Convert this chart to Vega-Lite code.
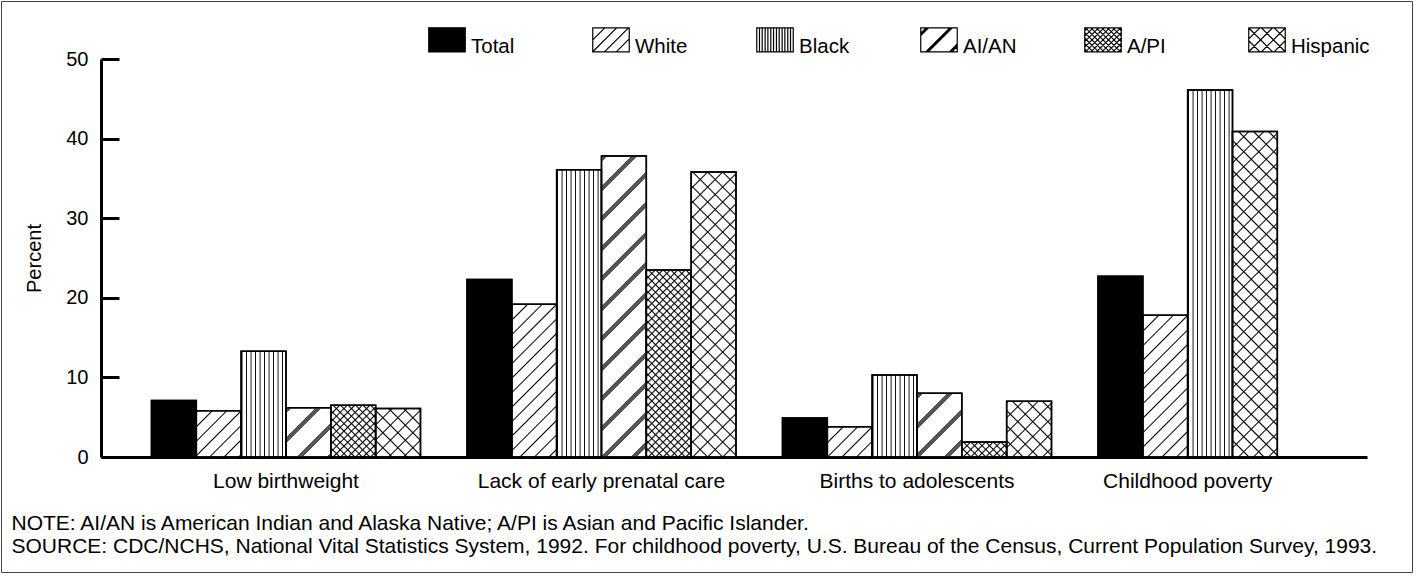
{
  "$schema": "https://vega.github.io/schema/vega-lite/v6.json",
  "width": 1411,
  "height": 571,
  "autosize": {"type": "none"},
  "padding": {"left": 1, "top": 1, "right": 4, "bottom": 5},
  "background": "white",
  "config": {
    "font": "Liberation Sans",
    "view": {"stroke": "#444", "strokeWidth": 1},
    "axis": {"labelFont": "Liberation Sans", "titleFont": "Liberation Sans", "labelColor": "black", "titleColor": "black", "titleFontWeight": "normal", "grid": false}
  },
  "params": [
    {"name": "stThin", "value": [
      {"offset":0,"color":"transparent"},{"offset":0.003125,"color":"#000"},{"offset":0.00625,"color":"transparent"},
      {"offset":0.03125,"color":"transparent"},{"offset":0.034375,"color":"#000"},{"offset":0.0375,"color":"transparent"},
      {"offset":0.0625,"color":"transparent"},{"offset":0.065625,"color":"#000"},{"offset":0.06875,"color":"transparent"},
      {"offset":0.09375,"color":"transparent"},{"offset":0.096875,"color":"#000"},{"offset":0.1,"color":"transparent"},
      {"offset":0.125,"color":"transparent"},{"offset":0.128125,"color":"#000"},{"offset":0.13125,"color":"transparent"},
      {"offset":0.15625,"color":"transparent"},{"offset":0.159375,"color":"#000"},{"offset":0.1625,"color":"transparent"},
      {"offset":0.1875,"color":"transparent"},{"offset":0.190625,"color":"#000"},{"offset":0.19375,"color":"transparent"},
      {"offset":0.21875,"color":"transparent"},{"offset":0.221875,"color":"#000"},{"offset":0.225,"color":"transparent"},
      {"offset":0.25,"color":"transparent"},{"offset":0.253125,"color":"#000"},{"offset":0.25625,"color":"transparent"},
      {"offset":0.28125,"color":"transparent"},{"offset":0.284375,"color":"#000"},{"offset":0.2875,"color":"transparent"},
      {"offset":0.3125,"color":"transparent"},{"offset":0.315625,"color":"#000"},{"offset":0.31875,"color":"transparent"},
      {"offset":0.34375,"color":"transparent"},{"offset":0.346875,"color":"#000"},{"offset":0.35,"color":"transparent"},
      {"offset":0.375,"color":"transparent"},{"offset":0.378125,"color":"#000"},{"offset":0.38125,"color":"transparent"},
      {"offset":0.40625,"color":"transparent"},{"offset":0.409375,"color":"#000"},{"offset":0.4125,"color":"transparent"},
      {"offset":0.4375,"color":"transparent"},{"offset":0.440625,"color":"#000"},{"offset":0.44375,"color":"transparent"},
      {"offset":0.46875,"color":"transparent"},{"offset":0.471875,"color":"#000"},{"offset":0.475,"color":"transparent"},
      {"offset":0.5,"color":"transparent"},{"offset":0.503125,"color":"#000"},{"offset":0.50625,"color":"transparent"},
      {"offset":0.53125,"color":"transparent"},{"offset":0.534375,"color":"#000"},{"offset":0.5375,"color":"transparent"},
      {"offset":0.5625,"color":"transparent"},{"offset":0.565625,"color":"#000"},{"offset":0.56875,"color":"transparent"},
      {"offset":0.59375,"color":"transparent"},{"offset":0.596875,"color":"#000"},{"offset":0.6,"color":"transparent"},
      {"offset":0.625,"color":"transparent"},{"offset":0.628125,"color":"#000"},{"offset":0.63125,"color":"transparent"},
      {"offset":0.65625,"color":"transparent"},{"offset":0.659375,"color":"#000"},{"offset":0.6625,"color":"transparent"},
      {"offset":0.6875,"color":"transparent"},{"offset":0.690625,"color":"#000"},{"offset":0.69375,"color":"transparent"},
      {"offset":0.71875,"color":"transparent"},{"offset":0.721875,"color":"#000"},{"offset":0.725,"color":"transparent"},
      {"offset":0.75,"color":"transparent"},{"offset":0.753125,"color":"#000"},{"offset":0.75625,"color":"transparent"},
      {"offset":0.78125,"color":"transparent"},{"offset":0.784375,"color":"#000"},{"offset":0.7875,"color":"transparent"},
      {"offset":0.8125,"color":"transparent"},{"offset":0.815625,"color":"#000"},{"offset":0.81875,"color":"transparent"},
      {"offset":0.84375,"color":"transparent"},{"offset":0.846875,"color":"#000"},{"offset":0.85,"color":"transparent"},
      {"offset":0.875,"color":"transparent"},{"offset":0.878125,"color":"#000"},{"offset":0.88125,"color":"transparent"},
      {"offset":0.90625,"color":"transparent"},{"offset":0.909375,"color":"#000"},{"offset":0.9125,"color":"transparent"},
      {"offset":0.9375,"color":"transparent"},{"offset":0.940625,"color":"#000"},{"offset":0.94375,"color":"transparent"},
      {"offset":0.96875,"color":"transparent"},{"offset":0.971875,"color":"#000"},{"offset":0.975,"color":"transparent"}
    ]},
    {"name": "stMed", "value": [
      {"offset":0,"color":"transparent"},{"offset":0.00625,"color":"#000"},{"offset":0.0125,"color":"transparent"},
      {"offset":0.03125,"color":"transparent"},{"offset":0.0375,"color":"#000"},{"offset":0.04375,"color":"transparent"},
      {"offset":0.0625,"color":"transparent"},{"offset":0.06875,"color":"#000"},{"offset":0.075,"color":"transparent"},
      {"offset":0.09375,"color":"transparent"},{"offset":0.1,"color":"#000"},{"offset":0.10625,"color":"transparent"},
      {"offset":0.125,"color":"transparent"},{"offset":0.13125,"color":"#000"},{"offset":0.1375,"color":"transparent"},
      {"offset":0.15625,"color":"transparent"},{"offset":0.1625,"color":"#000"},{"offset":0.16875,"color":"transparent"},
      {"offset":0.1875,"color":"transparent"},{"offset":0.19375,"color":"#000"},{"offset":0.2,"color":"transparent"},
      {"offset":0.21875,"color":"transparent"},{"offset":0.225,"color":"#000"},{"offset":0.23125,"color":"transparent"},
      {"offset":0.25,"color":"transparent"},{"offset":0.25625,"color":"#000"},{"offset":0.2625,"color":"transparent"},
      {"offset":0.28125,"color":"transparent"},{"offset":0.2875,"color":"#000"},{"offset":0.29375,"color":"transparent"},
      {"offset":0.3125,"color":"transparent"},{"offset":0.31875,"color":"#000"},{"offset":0.325,"color":"transparent"},
      {"offset":0.34375,"color":"transparent"},{"offset":0.35,"color":"#000"},{"offset":0.35625,"color":"transparent"},
      {"offset":0.375,"color":"transparent"},{"offset":0.38125,"color":"#000"},{"offset":0.3875,"color":"transparent"},
      {"offset":0.40625,"color":"transparent"},{"offset":0.4125,"color":"#000"},{"offset":0.41875,"color":"transparent"},
      {"offset":0.4375,"color":"transparent"},{"offset":0.44375,"color":"#000"},{"offset":0.45,"color":"transparent"},
      {"offset":0.46875,"color":"transparent"},{"offset":0.475,"color":"#000"},{"offset":0.48125,"color":"transparent"},
      {"offset":0.5,"color":"transparent"},{"offset":0.50625,"color":"#000"},{"offset":0.5125,"color":"transparent"},
      {"offset":0.53125,"color":"transparent"},{"offset":0.5375,"color":"#000"},{"offset":0.54375,"color":"transparent"},
      {"offset":0.5625,"color":"transparent"},{"offset":0.56875,"color":"#000"},{"offset":0.575,"color":"transparent"},
      {"offset":0.59375,"color":"transparent"},{"offset":0.6,"color":"#000"},{"offset":0.60625,"color":"transparent"},
      {"offset":0.625,"color":"transparent"},{"offset":0.63125,"color":"#000"},{"offset":0.6375,"color":"transparent"},
      {"offset":0.65625,"color":"transparent"},{"offset":0.6625,"color":"#000"},{"offset":0.66875,"color":"transparent"},
      {"offset":0.6875,"color":"transparent"},{"offset":0.69375,"color":"#000"},{"offset":0.7,"color":"transparent"},
      {"offset":0.71875,"color":"transparent"},{"offset":0.725,"color":"#000"},{"offset":0.73125,"color":"transparent"},
      {"offset":0.75,"color":"transparent"},{"offset":0.75625,"color":"#000"},{"offset":0.7625,"color":"transparent"},
      {"offset":0.78125,"color":"transparent"},{"offset":0.7875,"color":"#000"},{"offset":0.79375,"color":"transparent"},
      {"offset":0.8125,"color":"transparent"},{"offset":0.81875,"color":"#000"},{"offset":0.825,"color":"transparent"},
      {"offset":0.84375,"color":"transparent"},{"offset":0.85,"color":"#000"},{"offset":0.85625,"color":"transparent"},
      {"offset":0.875,"color":"transparent"},{"offset":0.88125,"color":"#000"},{"offset":0.8875,"color":"transparent"},
      {"offset":0.90625,"color":"transparent"},{"offset":0.9125,"color":"#000"},{"offset":0.91875,"color":"transparent"},
      {"offset":0.9375,"color":"transparent"},{"offset":0.94375,"color":"#000"},{"offset":0.95,"color":"transparent"},
      {"offset":0.96875,"color":"transparent"},{"offset":0.975,"color":"#000"},{"offset":0.98125,"color":"transparent"}
    ]},
    {"name": "stBand", "value": [
      {"offset":0,"color":"transparent"},{"offset":0,"color":"#555"},{"offset":0.016667,"color":"#555"},{"offset":0.016667,"color":"transparent"},
      {"offset":0.083333,"color":"transparent"},{"offset":0.083333,"color":"#555"},{"offset":0.1,"color":"#555"},{"offset":0.1,"color":"transparent"},
      {"offset":0.166667,"color":"transparent"},{"offset":0.166667,"color":"#555"},{"offset":0.183333,"color":"#555"},{"offset":0.183333,"color":"transparent"},
      {"offset":0.25,"color":"transparent"},{"offset":0.25,"color":"#555"},{"offset":0.266667,"color":"#555"},{"offset":0.266667,"color":"transparent"},
      {"offset":0.333333,"color":"transparent"},{"offset":0.333333,"color":"#555"},{"offset":0.35,"color":"#555"},{"offset":0.35,"color":"transparent"},
      {"offset":0.416667,"color":"transparent"},{"offset":0.416667,"color":"#555"},{"offset":0.433333,"color":"#555"},{"offset":0.433333,"color":"transparent"},
      {"offset":0.5,"color":"transparent"},{"offset":0.5,"color":"#555"},{"offset":0.516667,"color":"#555"},{"offset":0.516667,"color":"transparent"},
      {"offset":0.583333,"color":"transparent"},{"offset":0.583333,"color":"#555"},{"offset":0.6,"color":"#555"},{"offset":0.6,"color":"transparent"},
      {"offset":0.666667,"color":"transparent"},{"offset":0.666667,"color":"#555"},{"offset":0.683333,"color":"#555"},{"offset":0.683333,"color":"transparent"},
      {"offset":0.75,"color":"transparent"},{"offset":0.75,"color":"#555"},{"offset":0.766667,"color":"#555"},{"offset":0.766667,"color":"transparent"},
      {"offset":0.833333,"color":"transparent"},{"offset":0.833333,"color":"#555"},{"offset":0.85,"color":"#555"},{"offset":0.85,"color":"transparent"},
      {"offset":0.916667,"color":"transparent"},{"offset":0.916667,"color":"#555"},{"offset":0.933333,"color":"#555"},{"offset":0.933333,"color":"transparent"}
    ]}
  ],
  "data": {"values": [
    {"indicator": "Low birthweight", "race": "Total", "value": 7.1},
    {"indicator": "Low birthweight", "race": "White", "value": 5.8},
    {"indicator": "Low birthweight", "race": "Black", "value": 13.3},
    {"indicator": "Low birthweight", "race": "AI/AN", "value": 6.2},
    {"indicator": "Low birthweight", "race": "A/PI", "value": 6.5},
    {"indicator": "Low birthweight", "race": "Hispanic", "value": 6.1},
    {"indicator": "Lack of early prenatal care", "race": "Total", "value": 22.3},
    {"indicator": "Lack of early prenatal care", "race": "White", "value": 19.2},
    {"indicator": "Lack of early prenatal care", "race": "Black", "value": 36.1},
    {"indicator": "Lack of early prenatal care", "race": "AI/AN", "value": 37.8},
    {"indicator": "Lack of early prenatal care", "race": "A/PI", "value": 23.5},
    {"indicator": "Lack of early prenatal care", "race": "Hispanic", "value": 35.8},
    {"indicator": "Births to adolescents", "race": "Total", "value": 4.9},
    {"indicator": "Births to adolescents", "race": "White", "value": 3.8},
    {"indicator": "Births to adolescents", "race": "Black", "value": 10.3},
    {"indicator": "Births to adolescents", "race": "AI/AN", "value": 8.0},
    {"indicator": "Births to adolescents", "race": "A/PI", "value": 1.9},
    {"indicator": "Births to adolescents", "race": "Hispanic", "value": 7.0},
    {"indicator": "Childhood poverty", "race": "Total", "value": 22.7},
    {"indicator": "Childhood poverty", "race": "White", "value": 17.8},
    {"indicator": "Childhood poverty", "race": "Black", "value": 46.1},
    {"indicator": "Childhood poverty", "race": "Hispanic", "value": 40.9}
  ]},
  "transform": [
    {"window": [{"op": "row_number", "as": "slot"}], "groupby": ["indicator"]}
  ],
  "encoding": {
    "x": {
      "field": "indicator", "type": "nominal",
      "scale": {"domain": ["Low birthweight", "Lack of early prenatal care", "Births to adolescents", "Childhood poverty"], "range": [100, 1366], "paddingInner": 0.1474, "paddingOuter": 0.08, "align": 1},
      "axis": {
        "orient": "bottom", "offset": -115, "ticks": false, "labels": false, "domainWidth": 3, "domainColor": "black",
        "title": ["NOTE: AI/AN is American Indian and Alaska Native; A/PI is Asian and Pacific Islander.", "SOURCE: CDC/NCHS, National Vital Statistics System, 1992. For childhood poverty, U.S. Bureau of the Census, Current Population Survey, 1993."],
        "titleX": 10, "titleY": 72, "titleAlign": "left", "titleAnchor": "start", "titleBaseline": "alphabetic", "titleFontSize": 21, "titleLineHeight": 23, "titleAngle": 0
      }
    },
    "y": {
      "field": "value", "type": "quantitative", "stack": null,
      "scale": {"domain": [0, 50], "range": [456, 58], "nice": false},
      "axis": {
        "values": [0, 10, 20, 30, 40, 50], "offset": -100, "tickSize": -18, "tickWidth": 3, "tickColor": "black",
        "domainWidth": 3, "domainColor": "black", "labelPadding": 31, "labelFontSize": 20,
        "title": "Percent", "titleFontSize": 20, "titleX": -61, "titleY": 257, "titleAngle": 270, "titleAlign": "center", "titleBaseline": "alphabetic"
      }
    }
  },
  "layer": [
    {
      "mark": {"type": "bar", "stroke": "black", "strokeWidth": 1.5},
      "encoding": {
        "xOffset": {"field": "slot", "type": "ordinal", "scale": {"paddingInner": 0, "paddingOuter": 0}},
        "fill": {
          "field": "race", "type": "nominal",
          "scale": {"domain": ["Total", "White", "Black", "AI/AN", "A/PI", "Hispanic"], "range": ["#000", "#fff", "#fff", "#fff", "#fff", "#fff"]},
          "legend": {
            "orient": "none", "legendX": 427, "legendY": 19.4, "direction": "horizontal", "columns": 6, "title": null,
            "gridAlign": "all", "columnPadding": 40, "padding": 0,
            "symbolSize": 1332, "symbolType": "M-1,-0.66H1V0.66H-1Z", "symbolStrokeWidth": 1.2, "symbolStrokeColor": "black",
            "labelFont": "Liberation Sans", "labelFontSize": 20.5, "labelColor": "black", "labelOffset": 5, "labelBaseline": "alphabetic",
            "encode": {
              "symbols": {"update": {
                "stroke": {"value": "black"},
                "strokeWidth": {"value": 1.2},
                "shape": {"signal": "datum.value === 'White' ? 'M-1,-0.66H1V0.66H-1ZM-1,0L-0.34,-0.66M-1,0.65L0.31,-0.66M-0.36,0.66L0.96,-0.66M0.29,0.66L1,-0.05' : datum.value === 'Black' ? 'M-1,-0.66H1V0.66H-1ZM-0.85,-0.66V0.66M-0.7,-0.66V0.66M-0.54,-0.66V0.66M-0.39,-0.66V0.66M-0.23,-0.66V0.66M-0.08,-0.66V0.66M0.08,-0.66V0.66M0.23,-0.66V0.66M0.39,-0.66V0.66M0.54,-0.66V0.66M0.7,-0.66V0.66M0.85,-0.66V0.66' : datum.value === 'AI/AN' ? 'M-1,-0.66H1V0.66H-1ZM-0.73,0.66L0.59,-0.66M-0.66,0.66L0.66,-0.66M-0.59,0.66L0.73,-0.66M-1,-0.37L-0.71,-0.66M-1,-0.3L-0.64,-0.66M-1,-0.23L-0.57,-0.66M0.57,0.66L1,0.23M0.64,0.66L1,0.3M0.71,0.66L1,0.37' : datum.value === 'A/PI' ? 'M-1,-0.66H1V0.66H-1ZM-1,-0.5L-0.84,-0.66M-1,-0.2L-0.54,-0.66M-1,0.1L-0.24,-0.66M-1,0.4L0.06,-0.66M-0.96,0.66L0.36,-0.66M-0.66,0.66L0.66,-0.66M-0.36,0.66L0.96,-0.66M-0.06,0.66L1,-0.4M0.24,0.66L1,-0.1M0.54,0.66L1,0.2M0.84,0.66L1,0.5M-1,0.5L-0.84,0.66M-1,0.2L-0.54,0.66M-1,-0.1L-0.24,0.66M-1,-0.4L0.06,0.66M-0.96,-0.66L0.36,0.66M-0.66,-0.66L0.66,0.66M-0.36,-0.66L0.96,0.66M-0.06,-0.66L1,0.4M0.24,-0.66L1,0.1M0.54,-0.66L1,-0.2M0.84,-0.66L1,-0.5' : datum.value === 'Hispanic' ? 'M-1,-0.66H1V0.66H-1ZM-1,-0.05L-0.39,-0.66M-1,0.65L0.31,-0.66M-0.31,0.66L1,-0.65M0.39,0.66L1,0.05M-1,0.05L-0.39,0.66M-1,-0.65L0.31,0.66M-0.31,-0.66L1,0.65M0.39,-0.66L1,-0.05' : 'M-1,-0.66H1V0.66H-1Z'"}
              }},
              "labels": {"update": {"dy": {"value": 13.6}}}
            }
          }
        }
      }
    },
    {
      "mark": {
        "type": "bar", "strokeWidth": 0,
        "fill": {"expr": "datum.race === 'White' ? {gradient:'linear',x1:0,y1:0,x2:464*bandwidth('xOffset')/(pow(bandwidth('xOffset'),2)+pow(scale('y',0)-scale('y',datum.value),2)),y2:464*(scale('y',0)-scale('y',datum.value))/(pow(bandwidth('xOffset'),2)+pow(scale('y',0)-scale('y',datum.value),2)),stops:stThin} : datum.race === 'Black' ? {gradient:'linear',x1:0,y1:0,x2:144/bandwidth('xOffset'),y2:0,stops:stMed} : datum.race === 'AI/AN' ? {gradient:'linear',x1:0,y1:0,x2:360*bandwidth('xOffset')/(pow(bandwidth('xOffset'),2)+pow(scale('y',0)-scale('y',datum.value),2)),y2:360*(scale('y',0)-scale('y',datum.value))/(pow(bandwidth('xOffset'),2)+pow(scale('y',0)-scale('y',datum.value),2)),stops:stBand} : datum.race === 'A/PI' ? {gradient:'linear',x1:0,y1:0,x2:240*bandwidth('xOffset')/(pow(bandwidth('xOffset'),2)+pow(scale('y',0)-scale('y',datum.value),2)),y2:240*(scale('y',0)-scale('y',datum.value))/(pow(bandwidth('xOffset'),2)+pow(scale('y',0)-scale('y',datum.value),2)),stops:stMed} : datum.race === 'Hispanic' ? {gradient:'linear',x1:0,y1:0,x2:480*bandwidth('xOffset')/(pow(bandwidth('xOffset'),2)+pow(scale('y',0)-scale('y',datum.value),2)),y2:480*(scale('y',0)-scale('y',datum.value))/(pow(bandwidth('xOffset'),2)+pow(scale('y',0)-scale('y',datum.value),2)),stops:stThin} : 'transparent'"}
      },
      "encoding": {
        "xOffset": {"field": "slot", "type": "ordinal", "scale": {"paddingInner": 0, "paddingOuter": 0}}
      }
    },
    {
      "mark": {
        "type": "bar", "stroke": "black", "strokeWidth": 1.5,
        "fill": {"expr": "datum.race === 'A/PI' ? {gradient:'linear',x1:0,y1:1,x2:240*bandwidth('xOffset')/(pow(bandwidth('xOffset'),2)+pow(scale('y',0)-scale('y',datum.value),2)),y2:1-240*(scale('y',0)-scale('y',datum.value))/(pow(bandwidth('xOffset'),2)+pow(scale('y',0)-scale('y',datum.value),2)),stops:stMed} : datum.race === 'Hispanic' ? {gradient:'linear',x1:0,y1:1,x2:480*bandwidth('xOffset')/(pow(bandwidth('xOffset'),2)+pow(scale('y',0)-scale('y',datum.value),2)),y2:1-480*(scale('y',0)-scale('y',datum.value))/(pow(bandwidth('xOffset'),2)+pow(scale('y',0)-scale('y',datum.value),2)),stops:stThin} : 'transparent'"}
      },
      "encoding": {
        "xOffset": {"field": "slot", "type": "ordinal", "scale": {"paddingInner": 0, "paddingOuter": 0}}
      }
    },
    {
      "transform": [{"filter": "datum.slot === 1"}],
      "mark": {
        "type": "text", "font": "Liberation Sans", "fontSize": 21, "fill": "black", "baseline": "top", "align": "center",
        "y": {"expr": "scale('y', 0) + 14"},
        "dx": {"expr": "datum.indicator === 'Childhood poverty' ? -44.8 : 0"}
      },
      "encoding": {
        "y": null,
        "text": {"field": "indicator", "type": "nominal"}
      }
    }
  ]
}
